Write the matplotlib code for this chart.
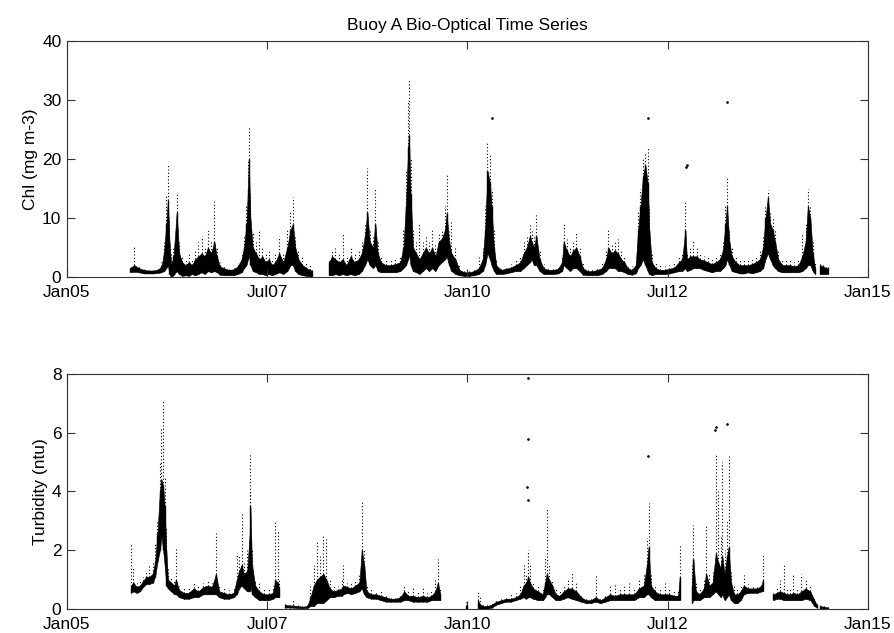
import numpy as np
import matplotlib
matplotlib.use("Agg")
import matplotlib.pyplot as plt

plt.rcParams['font.family'] = ['Liberation Sans', 'DejaVu Sans']

NAN = float('nan')

# ---------------- Chlorophyll (top panel) ----------------
# columns: time (decimal year), dense band low, dense band high, sparse peak
chl_t = [2005.79, 2005.84, 2005.90, 2005.96, 2006.02, 2006.08, 2006.14, 2006.18, 2006.21, 2006.24,
         2006.26, 2006.28, 2006.30, 2006.33, 2006.37, 2006.40, 2006.44, 2006.48, 2006.52, 2006.56,
         2006.60, 2006.64, 2006.68, 2006.72, 2006.76, 2006.80, 2006.84, 2006.87, 2006.91, 2006.96,
         2007.02, 2007.08, 2007.13, 2007.18, 2007.21, 2007.24, 2007.26, 2007.27, 2007.29, 2007.32,
         2007.36, 2007.40, 2007.44, 2007.48, 2007.52, 2007.56, 2007.60, 2007.65, 2007.70, 2007.75,
         2007.79, 2007.82, 2007.85, 2007.89, 2007.94, 2007.99, 2008.04, 2008.06, NAN,
         2008.27, 2008.31, 2008.35, 2008.40, 2008.44, 2008.49, 2008.54, 2008.59, 2008.64, 2008.68,
         2008.72, 2008.75, 2008.78, 2008.82, 2008.85, 2008.88, 2008.92, 2008.98, 2009.04, 2009.10,
         2009.16, 2009.20, 2009.23, 2009.26, 2009.27, 2009.29, 2009.32, 2009.36, 2009.40, 2009.44,
         2009.48, 2009.52, 2009.56, 2009.60, 2009.64, 2009.68, 2009.72, 2009.74, 2009.77, 2009.80,
         2009.85, 2009.90, 2009.96, 2010.02, 2010.08, 2010.14, 2010.19, 2010.22, 2010.25, 2010.28,
         2010.30, 2010.33, 2010.36, 2010.42, 2010.48, 2010.54, 2010.60, 2010.66, 2010.70, 2010.74,
         2010.78, 2010.80, 2010.83, 2010.86, 2010.90, 2010.95, 2011.01, 2011.07, 2011.13, 2011.18,
         2011.20, 2011.24, 2011.28, 2011.32, 2011.36, 2011.40, 2011.44, 2011.50, 2011.56, 2011.62,
         2011.68, 2011.73, 2011.76, 2011.80, 2011.84, 2011.88, 2011.92, 2011.96, 2012.00, 2012.05,
         2012.10, 2012.13, 2012.16, 2012.19, 2012.22, 2012.25, 2012.27, 2012.30, 2012.35, 2012.40,
         2012.46, 2012.52, 2012.58, 2012.64, 2012.68, 2012.72, 2012.74, 2012.78, 2012.82, 2012.86,
         2012.90, 2012.95, 2013.00, 2013.05, 2013.10, 2013.15, 2013.19, 2013.22, 2013.24, 2013.27,
         2013.30, 2013.35, 2013.40, 2013.45, 2013.50, 2013.55, 2013.60, 2013.65, 2013.69, 2013.72,
         2013.75, 2013.78, 2013.81, 2013.84, 2013.88, 2013.93, 2013.98, 2014.03, 2014.08, 2014.13,
         2014.18, 2014.22, 2014.25, 2014.28, 2014.31, 2014.34, NAN,
         2014.40, 2014.44, 2014.48, 2014.50]
chl_lo = [0.8, 0.9, 0.8, 0.6, 0.6, 0.6, 0.7, 0.8, 1.0, 1.5,
          2.0, 0.5, 0.0, 0.3, 1.0, 0.5, 0.2, 0.3, 0.2, 0.5,
          0.3, 0.5, 0.8, 0.5, 1.0, 0.8, 1.0, 0.8, 0.4, 0.3,
          0.3, 0.3, 0.5, 0.8, 1.5, 2.0, 3.0, 4.0, 2.0, 1.0,
          0.8, 0.5, 0.5, 0.3, 0.5, 0.3, 0.5, 0.8, 0.5, 1.0,
          2.0, 2.0, 1.0, 0.5, 0.3, 0.2, 0.1, 0.1, NAN,
          0.3, 0.3, 0.5, 0.3, 0.5, 0.3, 0.5, 0.3, 0.5, 1.0,
          2.0, 3.0, 2.0, 1.5, 2.0, 1.0, 0.8, 0.8, 0.8, 0.8,
          1.0, 1.5, 2.0, 3.0, 4.0, 2.0, 1.0, 0.8, 0.5, 1.0,
          1.5, 1.0, 1.5, 1.0, 2.0, 2.5, 3.0, 3.5, 2.0, 1.0,
          0.5, 0.3, 0.2, 0.2, 0.3, 0.5, 1.0, 2.0, 4.0, 3.0,
          2.0, 1.0, 0.5, 0.5, 0.6, 0.8, 1.0, 1.0, 1.5, 2.0,
          2.5, 3.0, 2.0, 2.0, 1.0, 0.5, 0.5, 0.5, 0.6, 1.0,
          2.0, 1.5, 1.0, 1.5, 1.5, 1.0, 0.4, 0.3, 0.3, 0.3,
          0.5, 1.0, 1.5, 1.5, 1.5, 1.0, 1.0, 0.8, 0.5, 0.4,
          0.6, 1.5, 2.0, 3.0, 2.0, 1.0, 0.5, 0.3, 0.5, 0.5,
          0.5, 0.6, 0.8, 1.0, 1.0, 1.5, 1.0, 1.2, 1.5, 1.5,
          1.5, 1.2, 1.0, 0.8, 1.0, 1.0, 1.5, 2.0, 3.0, 2.0,
          1.0, 0.8, 0.6, 0.6, 0.8, 0.6, 0.8, 1.0, 1.5, 3.0,
          4.0, 3.0, 2.0, 1.5, 1.0, 0.8, 0.8, 0.8, 0.8, 0.8,
          1.0, 1.5, 2.0, 2.0, 1.0, 0.5, NAN,
          0.5, 0.5, 0.5, 0.5]
chl_hi = [1.6, 2.0, 1.5, 1.2, 1.1, 1.1, 1.3, 1.8, 4.0, 9.0,
          13.0, 6.0, 2.0, 3.5, 11.0, 4.0, 2.5, 2.0, 2.5, 2.0,
          3.0, 3.5, 4.0, 3.5, 5.0, 4.0, 6.0, 3.5, 1.8, 1.5,
          1.2, 1.3, 1.8, 3.0, 5.0, 9.0, 15.0, 20.0, 10.0, 5.0,
          4.0, 3.0, 3.5, 2.5, 3.0, 2.0, 2.5, 4.0, 2.5, 5.0,
          8.0, 9.0, 5.0, 3.0, 2.0, 1.5, 1.2, 1.0, NAN,
          2.5, 3.5, 3.0, 2.5, 3.0, 2.0, 3.5, 2.5, 3.0, 4.0,
          7.0, 11.0, 6.0, 5.0, 9.0, 4.0, 2.5, 2.0, 2.0, 2.2,
          2.5, 5.0, 12.0, 22.0, 24.0, 14.0, 5.0, 4.0, 3.0, 4.0,
          5.0, 4.0, 5.0, 3.5, 6.0, 6.5, 8.0, 10.8, 6.0, 4.0,
          3.0, 1.2, 0.8, 0.8, 1.0, 1.5, 3.0, 8.0, 18.0, 16.0,
          12.0, 5.0, 2.0, 1.2, 1.4, 1.6, 2.0, 2.5, 4.0, 5.0,
          7.0, 6.0, 5.0, 7.0, 3.0, 1.5, 1.2, 1.2, 1.4, 2.5,
          6.0, 4.5, 3.5, 4.5, 5.0, 3.5, 1.5, 1.0, 1.0, 1.2,
          1.5, 3.0, 5.0, 4.0, 4.5, 4.0, 3.0, 2.5, 1.5, 1.2,
          2.0, 8.0, 12.0, 17.0, 19.0, 16.0, 8.0, 2.5, 1.5, 1.2,
          1.2, 1.4, 1.6, 2.5, 3.0, 8.0, 3.0, 3.5, 3.5, 3.5,
          3.0, 2.8, 2.5, 2.2, 2.5, 3.0, 4.5, 9.0, 12.0, 6.0,
          3.5, 2.5, 2.0, 2.0, 2.0, 2.2, 2.5, 3.0, 5.0, 10.0,
          13.5, 9.0, 8.0, 6.0, 3.0, 2.0, 2.0, 2.0, 1.8, 2.0,
          3.5, 6.0, 12.0, 10.0, 4.0, 1.5, NAN,
          2.0, 1.8, 1.5, 1.5]
chl_pk = [1.6, 5.5, 1.8, 1.3, 1.2, 1.2, 1.4, 2.5, 6.0, 14.0,
          19.2, 10.0, 4.0, 5.0, 14.4, 6.0, 3.5, 3.0, 4.0, 3.0,
          4.5, 6.0, 7.0, 5.0, 8.0, 6.0, 12.8, 5.0, 2.5, 2.0,
          1.5, 1.6, 2.4, 4.0, 7.0, 12.0, 20.0, 25.5, 14.0, 7.5,
          6.0, 8.0, 5.0, 4.0, 4.5, 3.0, 4.0, 7.0, 4.0, 8.0,
          11.0, 13.6, 7.0, 4.5, 3.5, 2.5, 2.0, 1.5, NAN,
          3.0, 4.5, 5.0, 4.0, 7.4, 3.5, 5.0, 4.0, 4.5, 6.0,
          9.0, 18.4, 8.0, 7.0, 15.0, 6.0, 3.5, 3.0, 2.8, 3.0,
          3.5, 8.0, 18.0, 30.0, 33.5, 20.0, 8.0, 6.0, 9.0, 6.0,
          7.0, 6.0, 8.0, 5.5, 7.5, 8.0, 12.0, 17.3, 8.0, 9.6,
          5.0, 2.0, 1.2, 1.2, 1.5, 3.5, 5.0, 12.0, 22.7, 21.0,
          15.0, 8.0, 3.0, 1.6, 1.8, 2.2, 3.0, 3.5, 6.0, 7.0,
          9.0, 8.0, 7.0, 10.8, 4.5, 2.2, 1.6, 1.6, 1.8, 3.5,
          9.3, 6.5, 5.0, 6.0, 7.4, 5.0, 2.5, 1.4, 1.4, 1.6,
          2.5, 4.5, 8.0, 5.5, 6.0, 6.5, 4.5, 3.5, 2.0, 1.8,
          3.0, 11.0, 15.0, 20.0, 21.0, 22.0, 12.0, 4.0, 2.5, 2.0,
          1.8, 2.0, 2.5, 3.5, 4.0, 13.0, 4.0, 5.0, 6.3, 5.0,
          4.0, 3.5, 3.5, 3.0, 3.5, 4.0, 6.0, 12.0, 16.7, 8.0,
          5.0, 3.5, 3.0, 3.0, 3.2, 3.0, 3.5, 4.5, 7.0, 12.0,
          14.7, 11.0, 10.0, 8.0, 4.5, 3.0, 2.8, 2.8, 2.5, 3.0,
          7.4, 9.0, 15.0, 12.0, 6.0, 2.5, NAN,
          2.5, 2.2, 2.0, 2.0]
# isolated high readings
chl_out_t = [2010.31, 2012.25, 2012.73, 2012.74, 2013.24]
chl_out_v = [27.0, 27.0, 18.6, 19.0, 29.7]

# ---------------- Turbidity (bottom panel) ----------------
tur_t = [2005.80, 2005.83, 2005.87, 2005.91, 2005.95, 2005.99, 2006.03, 2006.07, 2006.10, 2006.13,
         2006.16, 2006.18, 2006.20, 2006.22, 2006.24, 2006.26, 2006.30, 2006.34, 2006.36, 2006.40,
         2006.46, 2006.52, 2006.58, 2006.64, 2006.70, 2006.76, 2006.81, 2006.86, 2006.90, 2006.96,
         2007.02, 2007.08, 2007.12, 2007.15, 2007.18, 2007.21, 2007.25, 2007.28, 2007.29, 2007.31,
         2007.35, 2007.40, 2007.46, 2007.52, 2007.57, 2007.60, 2007.63, 2007.65, NAN,
         2007.72, 2007.78, 2007.82, 2007.88, 2007.94, 2008.00, 2008.04, 2008.08, 2008.12, 2008.16,
         2008.20, 2008.24, 2008.28, 2008.33, 2008.38, 2008.43, 2008.45, 2008.50, 2008.55, 2008.60,
         2008.65, 2008.68, 2008.71, 2008.74, 2008.80, 2008.86, 2008.92, 2008.98, 2009.04, 2009.10,
         2009.16, 2009.21, 2009.26, 2009.32, 2009.38, 2009.44, 2009.50, 2009.55, 2009.60, 2009.63,
         2009.66, NAN, 2009.985, 2009.995, NAN,
         2010.13, 2010.16, 2010.20, 2010.25, 2010.30, 2010.36, 2010.42, 2010.48, 2010.54, 2010.60,
         2010.66, 2010.70, 2010.73, 2010.76, 2010.78, 2010.82, 2010.88, 2010.94, 2010.97, 2010.99,
         2011.02, 2011.06, 2011.10, 2011.15, 2011.20, 2011.25, 2011.30, 2011.36, 2011.42, 2011.48,
         2011.54, 2011.60, 2011.66, 2011.72, 2011.78, 2011.84, 2011.90, 2011.96, 2012.02, 2012.08,
         2012.14, 2012.20, 2012.24, 2012.26, 2012.29, 2012.34, 2012.40, 2012.46, 2012.52, 2012.58,
         2012.63, 2012.65, NAN,
         2012.80, 2012.82, 2012.85, 2012.90, 2012.95, 2012.98, 2013.02, 2013.06, 2013.10, 2013.13,
         2013.16, 2013.18, 2013.21, 2013.24, 2013.26, 2013.29, 2013.33, 2013.37, 2013.41, 2013.45,
         2013.50, 2013.56, 2013.62, 2013.67, 2013.69, NAN,
         2013.82, 2013.86, 2013.90, 2013.95, 2013.99, 2014.03, 2014.07, 2014.12, 2014.17, 2014.22,
         2014.28, 2014.33, 2014.36, NAN,
         2014.40, 2014.45, 2014.50]
tur_lo = [0.55, 0.6, 0.55, 0.6, 0.75, 0.85, 0.85, 0.9, 1.1, 1.6,
          2.0, 2.5, 2.0, 1.5, 0.8, 0.7, 0.6, 0.5, 0.5, 0.4,
          0.35, 0.35, 0.4, 0.4, 0.5, 0.5, 0.5, 0.5, 0.4, 0.35,
          0.35, 0.4, 0.5, 0.7, 0.8, 0.7, 0.6, 0.6, 0.8, 0.5,
          0.4, 0.3, 0.3, 0.3, 0.35, 0.4, 0.4, 0.4, NAN,
          0.05, 0.05, 0.05, 0.03, 0.03, 0.03, 0.1, 0.1, 0.2, 0.2,
          0.2, 0.3, 0.4, 0.4, 0.45, 0.45, 0.5, 0.55, 0.5, 0.55,
          0.6, 0.7, 0.5, 0.4, 0.35, 0.35, 0.3, 0.25, 0.25, 0.25,
          0.25, 0.3, 0.3, 0.25, 0.25, 0.25, 0.25, 0.3, 0.3, 0.3,
          0.3, NAN, 0.0, 0.0, NAN,
          0.0, 0.0, 0.0, 0.0, 0.05, 0.15, 0.2, 0.25, 0.25, 0.3,
          0.35, 0.4, 0.35, 0.4, 0.4, 0.35, 0.3, 0.3, 0.4, 0.5,
          0.5, 0.4, 0.3, 0.3, 0.35, 0.4, 0.35, 0.3, 0.25, 0.2,
          0.2, 0.25, 0.2, 0.25, 0.3, 0.3, 0.3, 0.3, 0.3, 0.3,
          0.4, 0.4, 0.5, 0.5, 0.4, 0.3, 0.3, 0.3, 0.3, 0.3,
          0.3, 0.3, NAN,
          0.2, 0.3, 0.3, 0.3, 0.4, 0.4, 0.4, 0.5, 0.6, 0.5,
          0.4, 0.5, 0.3, 0.4, 0.5, 0.3, 0.2, 0.2, 0.3, 0.5,
          0.55, 0.55, 0.55, 0.6, 0.6, NAN,
          0.3, 0.35, 0.35, 0.3, 0.3, 0.3, 0.3, 0.3, 0.3, 0.35,
          0.3, 0.1, 0.05, NAN,
          0.0, 0.0, 0.0]
tur_hi = [0.8, 0.9, 0.75, 0.8, 0.95, 1.1, 1.1, 1.2, 1.6, 2.6,
          4.0, 4.4, 4.2, 3.5, 2.0, 1.0, 0.9, 0.8, 1.0, 0.65,
          0.55, 0.55, 0.7, 0.6, 0.75, 0.8, 0.75, 1.2, 0.6, 0.55,
          0.5, 0.55, 1.0, 1.3, 1.5, 1.2, 1.3, 2.5, 3.5, 1.5,
          0.8, 0.6, 0.5, 0.5, 0.55, 1.0, 0.9, 0.7, NAN,
          0.15, 0.12, 0.12, 0.1, 0.08, 0.1, 0.4, 0.8, 1.0, 1.1,
          1.2, 1.0, 0.7, 0.6, 0.65, 0.7, 0.8, 0.75, 0.7, 0.8,
          0.9, 2.0, 1.5, 0.6, 0.5, 0.5, 0.45, 0.4, 0.35, 0.35,
          0.4, 0.6, 0.45, 0.45, 0.4, 0.45, 0.4, 0.45, 0.6, 0.9,
          0.5, NAN, 0.1, 0.1, NAN,
          0.3, 0.15, 0.1, 0.1, 0.15, 0.25, 0.3, 0.35, 0.35, 0.4,
          0.5, 0.8, 0.9, 1.1, 0.9, 0.7, 0.6, 0.5, 0.9, 1.2,
          1.0, 0.8, 0.5, 0.45, 0.6, 0.7, 0.7, 0.6, 0.4, 0.3,
          0.3, 0.4, 0.3, 0.4, 0.5, 0.45, 0.5, 0.5, 0.5, 0.5,
          0.7, 0.8, 1.5, 2.1, 0.8, 0.6, 0.5, 0.5, 0.5, 0.45,
          0.45, 1.1, NAN,
          0.8, 1.7, 0.6, 0.5, 0.7, 1.2, 0.8, 0.9, 1.9, 1.6,
          1.4, 1.8, 1.2, 1.8, 2.1, 0.9, 0.5, 0.5, 0.6, 0.8,
          0.7, 0.7, 0.7, 0.8, 1.0, NAN,
          0.5, 0.55, 0.6, 0.55, 0.5, 0.5, 0.55, 0.5, 0.6, 0.7,
          0.6, 0.3, 0.15, NAN,
          0.1, 0.08, 0.05]
tur_pk = [2.2, 1.4, 0.9, 0.95, 1.1, 1.3, 1.5, 1.6, 2.2, 3.0,
          5.0, 6.2, 7.1, 4.5, 2.8, 1.4, 1.1, 1.0, 2.1, 0.8,
          0.7, 0.7, 0.9, 0.8, 0.9, 1.0, 0.9, 2.6, 0.8, 0.7,
          0.65, 0.7, 1.9, 1.8, 3.3, 1.6, 2.0, 4.0, 5.3, 2.0,
          1.0, 0.9, 0.7, 0.7, 0.8, 3.0, 2.7, 1.0, NAN,
          0.2, 0.15, 0.3, 0.12, 0.1, 0.15, 0.8, 1.5, 2.3, 1.8,
          2.5, 2.4, 1.0, 0.8, 0.8, 1.0, 1.5, 0.9, 0.9, 1.0,
          1.2, 3.7, 2.0, 0.8, 0.7, 0.6, 0.6, 0.5, 0.45, 0.45,
          0.5, 0.8, 0.6, 0.7, 0.6, 0.8, 0.55, 0.6, 1.0, 1.7,
          0.7, NAN, 0.25, 0.25, NAN,
          0.6, 0.4, 0.2, 0.2, 0.25, 0.35, 0.4, 0.45, 0.5, 0.55,
          0.8, 1.5, 1.2, 2.0, 1.5, 0.9, 0.8, 0.7, 1.8, 3.4,
          1.5, 1.0, 0.7, 0.6, 0.8, 1.0, 1.25, 0.9, 0.5, 0.4,
          0.4, 1.2, 0.4, 0.5, 0.8, 0.9, 0.7, 0.8, 0.9, 0.7,
          1.05, 1.2, 2.4, 3.6, 1.2, 0.8, 0.7, 0.9, 0.7, 0.6,
          0.6, 2.2, NAN,
          1.5, 2.85, 0.9, 0.7, 1.0, 2.9, 1.2, 1.3, 5.3, 4.0,
          2.5, 5.0, 2.0, 3.0, 5.2, 1.3, 0.8, 0.7, 0.8, 1.2,
          0.85, 0.8, 0.8, 0.9, 1.85, NAN,
          0.6, 0.7, 1.0, 1.55, 0.7, 0.7, 1.15, 0.7, 1.2, 1.0,
          0.8, 0.4, 0.2, NAN,
          0.15, 0.12, 0.1]
tur_out_t = [2010.74, 2010.75, 2010.75, 2010.76, 2012.25, 2013.09, 2013.10, 2013.24]
tur_out_v = [4.15, 5.8, 7.85, 3.7, 5.2, 6.1, 6.2, 6.3]

x_ticks = [2005.0, 2007.5, 2010.0, 2012.5, 2015.0]
x_labels = ['Jan05', 'Jul07', 'Jan10', 'Jul12', 'Jan15']


def segments(t, lo, hi, pk):
    t = np.asarray(t, float); lo = np.asarray(lo, float)
    hi = np.asarray(hi, float); pk = np.asarray(pk, float)
    cut = np.where(np.isnan(t))[0]
    bounds = np.split(np.arange(len(t)), cut)
    for idx in bounds:
        idx = idx[~np.isnan(t[idx])]
        if len(idx):
            yield t[idx], lo[idx], hi[idx], pk[idx]


def draw(ax, t, lo, hi, pk, out_t, out_v):
    for st, sl, sh, sp in segments(t, lo, hi, pk):
        ax.fill_between(st, sl, sh, color='black', lw=0.4)
        ax.vlines(st, sl, sh, color='black', lw=1.0)
        ax.vlines(st, sh, sp, color='black', lw=0.8, linestyles=(0, (1, 2)))
    ax.plot(out_t, out_v, 'k.', ms=1.8)


fs = 12.5
fig = plt.figure(figsize=(8.94, 6.33), dpi=100)
ax1 = fig.add_axes([0.0749, 0.5624, 0.8960, 0.3728])
ax2 = fig.add_axes([0.0749, 0.0379, 0.8960, 0.3713])

draw(ax1, chl_t, chl_lo, chl_hi, chl_pk, chl_out_t, chl_out_v)
draw(ax2, tur_t, tur_lo, tur_hi, tur_pk, tur_out_t, tur_out_v)

ax1.set_ylim(0, 40)
ax1.set_yticks([0, 10, 20, 30, 40])
ax1.set_ylabel('Chl (mg m-3)', fontsize=fs, labelpad=3)
ax1.set_title('Buoy A Bio-Optical Time Series', fontsize=fs, pad=8)

ax2.set_ylim(0, 8)
ax2.set_yticks([0, 2, 4, 6, 8])
ax2.set_ylabel('Turbidity (ntu)', fontsize=fs, labelpad=3)

for ax in (ax1, ax2):
    ax.set_xlim(2005, 2015)
    ax.set_xticks(x_ticks)
    ax.set_xticklabels(x_labels)
    ax.tick_params(direction='in', length=6, width=0.8, top=True, right=True,
                   labelsize=fs, pad=4, color='#333333')
    ax.tick_params(axis='x', pad=6)
    for s in ax.spines.values():
        s.set_color('#333333')
        s.set_linewidth(0.8)

fig.savefig('out.png', dpi=100)
